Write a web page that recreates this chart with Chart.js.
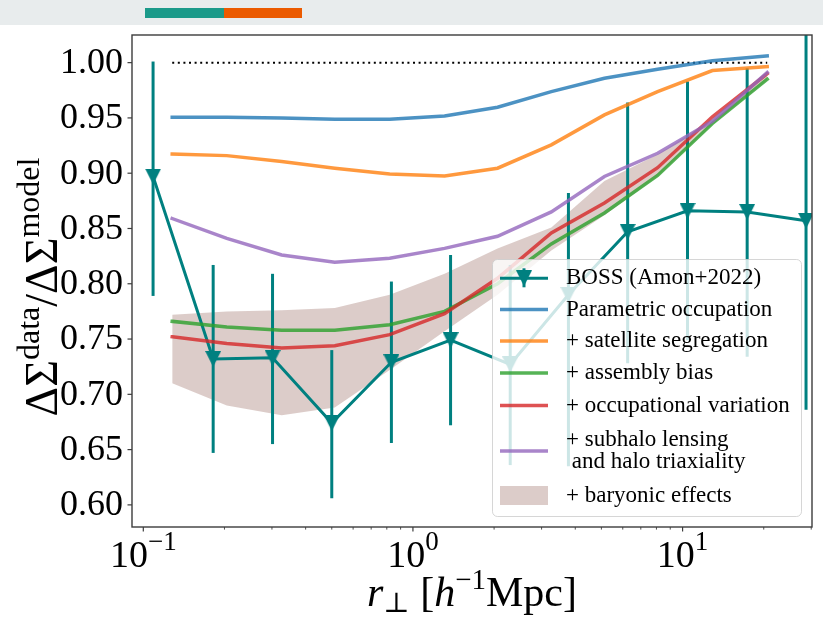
<!DOCTYPE html>
<html>
<head>
<meta charset="utf-8">
<script src="https://cdn.jsdelivr.net/npm/chart.js@4.4.0/dist/chart.umd.min.js"></script>
<style>
  html, body { margin: 0; padding: 0; background: #ffffff; }
  #wrap { position: relative; width: 823px; height: 617px; overflow: hidden; background: #ffffff; }
  #topbar { position: absolute; left: 0; top: 0; width: 823px; height: 25px; background: #e8eced; z-index: 2; }
  #topbar .teal { position: absolute; left: 145px; top: 8px; width: 79px; height: 10px; background: #1b9a8a; }
  #topbar .orange { position: absolute; left: 224px; top: 8px; width: 78px; height: 10px; background: #eb5a00; }
  canvas { position: absolute; left: 0; top: 0; }
</style>
</head>
<body>
<div id="wrap">
  <div id="topbar"><div class="teal"></div><div class="orange"></div></div>
  <canvas id="chart" width="823" height="617"></canvas>
</div>
<script>
// ---- measured lensing ratio (BOSS, Amon+2022) ----
const bossR       = [0.1087, 0.1816, 0.3015, 0.500, 0.832, 1.379, 2.295, 3.773, 6.256, 10.43, 17.36, 28.7];
const bossRatio   = [0.897, 0.732, 0.733, 0.674, 0.729, 0.749, 0.727, 0.790, 0.847, 0.866, 0.865, 0.857];
const bossErrUp   = [0.104, 0.085, 0.076, 0.066, 0.073, 0.077, 0.090, 0.092, 0.117, 0.117, 0.130, 0.171];
const bossErrDown = [0.108, 0.085, 0.078, 0.068, 0.073, 0.077, 0.091, 0.155, 0.119, 0.117, 0.131, 0.171];

// ---- model ratios on the projected-radius grid ----
const modelR       = [0.128, 0.204, 0.326, 0.513, 0.820, 1.31, 2.06, 3.26, 5.13, 8.08, 12.9, 20.6];
const parametric   = [0.9506, 0.9506, 0.9500, 0.9488, 0.9488, 0.9518, 0.9597, 0.9738, 0.9859, 0.9940, 1.0018, 1.0060];
const satSegreg    = [0.9174, 0.9159, 0.9105, 0.9045, 0.8993, 0.8975, 0.9045, 0.9256, 0.9527, 0.9738, 0.9928, 0.9964];
const assemblyBias = [0.766, 0.761, 0.758, 0.758, 0.763, 0.775, 0.800, 0.836, 0.864, 0.898, 0.945, 0.985];
const occVariation = [0.752, 0.746, 0.742, 0.744, 0.754, 0.773, 0.805, 0.846, 0.873, 0.905, 0.951, 0.990];
const subhaloTriax = [0.859, 0.841, 0.826, 0.8195, 0.823, 0.832, 0.843, 0.865, 0.897, 0.918, 0.947, 0.991];
const baryonHigh   = [0.772, 0.775, 0.776, 0.778, 0.790, 0.809, 0.832, 0.851, 0.893, 0.917, 0.949, 0.992];
const baryonLow    = [0.710, 0.690, 0.681, 0.688, 0.722, 0.757, 0.790, 0.830, 0.862, 0.897, 0.944, 0.984];
const unityLine    = [1.0, 1.0];
const unityR       = [0.128, 20.6];

// ---- axes ----
const yTicks       = [0.60, 0.65, 0.70, 0.75, 0.80, 0.85, 0.90, 0.95, 1.00];
const xMajorTicks  = [0.1, 1, 10];
const xMajorExp    = ['\u22121', '0', '1'];
const xMinorTicks  = [0.2, 0.3, 0.4, 0.5, 0.6, 0.7, 0.8, 0.9, 2, 3, 4, 5, 6, 7, 8, 9, 20, 30];

const seriesNames = ['BOSS (Amon+2022)', 'Parametric occupation', '+ satellite segregation',
  '+ assembly bias', '+ occupational variation', '+ subhalo lensing\n and halo triaxiality', '+ baryonic effects'];

const TEAL   = '#008080';
const BLUE   = 'rgba(31,119,180,0.8)';
const ORANGE = 'rgba(255,127,14,0.8)';
const GREEN  = 'rgba(44,160,44,0.8)';
const RED    = 'rgba(214,39,40,0.8)';
const PURPLE = 'rgba(148,103,189,0.8)';
const BAND   = 'rgba(140,86,75,0.3)';
const SERIF  = '"Liberation Serif", "DejaVu Serif", serif';

const pts = (xs, ys) => xs.map((x, i) => ({ x: x, y: ys[i] }));

// downward triangle marker, centred on its bounding box
function triangleMarker(size, color) {
  const c = document.createElement('canvas');
  c.width = size; c.height = size;
  const g = c.getContext('2d');
  g.fillStyle = color;
  g.beginPath();
  g.moveTo(0, 0); g.lineTo(size, 0); g.lineTo(size / 2, size);
  g.closePath(); g.fill();
  return c;
}
const tri = triangleMarker(16, TEAL);

// text runs with super/subscripts
function drawRich(ctx, parts, x, y, align) {
  let w = 0;
  parts.forEach(p => {
    ctx.font = (p.italic ? 'italic ' : '') + p.size + 'px ' + SERIF;
    p.w = ctx.measureText(p.t).width;
    w += p.w;
  });
  let cx = align === 'center' ? x - w / 2 : (align === 'right' ? x - w : x);
  ctx.textAlign = 'left';
  ctx.textBaseline = 'alphabetic';
  parts.forEach(p => {
    ctx.font = (p.italic ? 'italic ' : '') + p.size + 'px ' + SERIF;
    ctx.fillText(p.t, cx, y + (p.dy || 0));
    cx += p.w;
  });
}

const BOSS_INDEX = 0;

const decor = {
  id: 'decor',
  beforeDatasetDraw(chart, args) {
    if (args.index !== BOSS_INDEX) return;
    const ctx = chart.ctx, xs = chart.scales.x, ys = chart.scales.y, a = chart.chartArea;
    ctx.save();
    ctx.beginPath();
    ctx.rect(a.left, a.top, a.right - a.left, a.bottom - a.top);
    ctx.clip();
    ctx.strokeStyle = TEAL;
    ctx.lineWidth = 3;
    bossR.forEach((r, i) => {
      const px = xs.getPixelForValue(r);
      ctx.beginPath();
      ctx.moveTo(px, ys.getPixelForValue(bossRatio[i] + bossErrUp[i]));
      ctx.lineTo(px, ys.getPixelForValue(bossRatio[i] - bossErrDown[i]));
      ctx.stroke();
    });
    ctx.restore();
  },
  afterDraw(chart) {
    const ctx = chart.ctx, xs = chart.scales.x, ys = chart.scales.y, a = chart.chartArea;
    ctx.save();
    // frame
    ctx.strokeStyle = '#3c3c3c';
    ctx.lineWidth = 1.4;
    ctx.strokeRect(a.left, a.top, a.right - a.left, a.bottom - a.top);
    // y ticks and labels
    ctx.fillStyle = '#000';
    ctx.lineWidth = 1.2;
    yTicks.forEach(v => {
      const py = ys.getPixelForValue(v);
      ctx.beginPath(); ctx.moveTo(a.left - 4.5, py); ctx.lineTo(a.left, py); ctx.stroke();
      ctx.font = '36px ' + SERIF;
      ctx.textAlign = 'right';
      ctx.textBaseline = 'middle';
      ctx.fillText(v.toFixed(2), a.left - 9, py + 1);
    });
    // x ticks
    xMajorTicks.forEach((v, i) => {
      const px = xs.getPixelForValue(v);
      ctx.lineWidth = 1.2;
      ctx.beginPath(); ctx.moveTo(px, a.bottom); ctx.lineTo(px, a.bottom + 4.5); ctx.stroke();
      drawRich(ctx, [{ t: '10', size: 38 }, { t: xMajorExp[i], size: 27, dy: -17 }], px, a.bottom + 40, 'center');
    });
    ctx.lineWidth = 0.9;
    xMinorTicks.forEach(v => {
      const px = xs.getPixelForValue(v);
      ctx.beginPath(); ctx.moveTo(px, a.bottom); ctx.lineTo(px, a.bottom + 2.6); ctx.stroke();
    });
    // axis titles
    drawRich(ctx, [
      { t: 'r', size: 42, italic: true },
      { t: '\u22a5', size: 28, dy: 6 },
      { t: ' [', size: 42 },
      { t: 'h', size: 42, italic: true },
      { t: '\u22121', size: 29, dy: -17 },
      { t: 'Mpc]', size: 42 }
    ], (a.left + a.right) / 2, 606, 'center');
    ctx.save();
    ctx.translate(57, (a.top + a.bottom) / 2 + 6);
    ctx.rotate(-Math.PI / 2);
    drawRich(ctx, [
      { t: '\u0394\u03a3', size: 46 },
      { t: 'data', size: 32, dy: -18 },
      { t: '/\u0394\u03a3', size: 46 },
      { t: 'model', size: 32, dy: -18 }
    ], 0, 0, 'center');
    ctx.restore();

    // legend
    const L = { x: 492.5, y: 259.5, w: 309, h: 257, r: 5 };
    ctx.beginPath();
    ctx.roundRect(L.x, L.y, L.w, L.h, L.r);
    ctx.fillStyle = 'rgba(255,255,255,0.8)';
    ctx.fill();
    ctx.strokeStyle = 'rgba(204,204,204,0.8)';
    ctx.lineWidth = 1;
    ctx.stroke();
    const hx0 = 500, hx1 = 548, tx = 566;
    const rows = [278.3, 309.5, 341, 373, 405.5, 451, 495.5];
    const colors = [TEAL, BLUE, ORANGE, GREEN, RED, PURPLE, BAND];
    rows.forEach((ry, i) => {
      if (i === 6) {
        ctx.fillStyle = BAND;
        ctx.fillRect(hx0, ry - 9.5, hx1 - hx0, 19);
      } else {
        ctx.strokeStyle = colors[i];
        ctx.lineWidth = i === 0 ? 3 : 3.5;
        ctx.beginPath(); ctx.moveTo(hx0, ry); ctx.lineTo(hx1, ry); ctx.stroke();
        if (i === 0) {
          const mx = (hx0 + hx1) / 2;
          ctx.beginPath(); ctx.moveTo(mx, ry - 10); ctx.lineTo(mx, ry + 9); ctx.stroke();
          ctx.drawImage(tri, mx - 8, ry - 8);
        }
      }
      ctx.fillStyle = '#000';
      ctx.font = '23px ' + SERIF;
      ctx.textAlign = 'left';
      ctx.textBaseline = 'middle';
      const lines = seriesNames[i].split('\n');
      if (lines.length === 1) {
        ctx.fillText(lines[0], tx, ry);
      } else {
        ctx.fillText(lines[0], tx, ry - 11);
        ctx.fillText(lines[1], tx, ry + 11);
      }
    });
    ctx.restore();
  }
};

const lineDs = (label, ys, color, order) => ({
  label: label, data: pts(modelR, ys), borderColor: color, borderWidth: 3.5,
  pointRadius: 0, fill: false, tension: 0, order: order, borderCapStyle: 'square'
});

new Chart(document.getElementById('chart'), {
  type: 'line',
  data: {
    datasets: [
      { label: seriesNames[0], data: pts(bossR, bossRatio), borderColor: TEAL, borderWidth: 3,
        pointStyle: tri, pointRadius: 8, fill: false, tension: 0, order: 5 },
      lineDs(seriesNames[1], parametric, BLUE, 4),
      lineDs(seriesNames[2], satSegreg, ORANGE, 3),
      lineDs(seriesNames[3], assemblyBias, GREEN, 2),
      lineDs(seriesNames[4], occVariation, RED, 1),
      lineDs(seriesNames[5], subhaloTriax, PURPLE, 0),
      { label: seriesNames[6], data: pts(modelR, baryonHigh), borderWidth: 0, pointRadius: 0,
        backgroundColor: BAND, fill: '+1', tension: 0, order: 10 },
      { label: 'baryon low', data: pts(modelR, baryonLow), borderWidth: 0, pointRadius: 0,
        fill: false, tension: 0, order: 10 },
      { label: 'unity', data: pts(unityR, unityLine), borderColor: '#000', borderWidth: 2,
        borderDash: [2, 3.6], pointRadius: 0, fill: false, order: 6 }
    ]
  },
  options: {
    responsive: false,
    animation: false,
    events: [],
    devicePixelRatio: 1,
    layout: { padding: { top: 35, right: 10, left: 0, bottom: 0 } },
    plugins: { legend: { display: false }, tooltip: { enabled: false } },
    scales: {
      x: {
        type: 'logarithmic', min: 0.0908, max: 30.2,
        grid: { display: false, drawTicks: false }, border: { display: false },
        ticks: { display: false },
        afterFit: s => { s.height = 90; }
      },
      y: {
        type: 'linear', min: 0.580, max: 1.025,
        grid: { display: false, drawTicks: false }, border: { display: false },
        ticks: { display: false },
        afterFit: s => { s.width = 132; }
      }
    }
  },
  plugins: [decor]
});
</script>
</body>
</html>
